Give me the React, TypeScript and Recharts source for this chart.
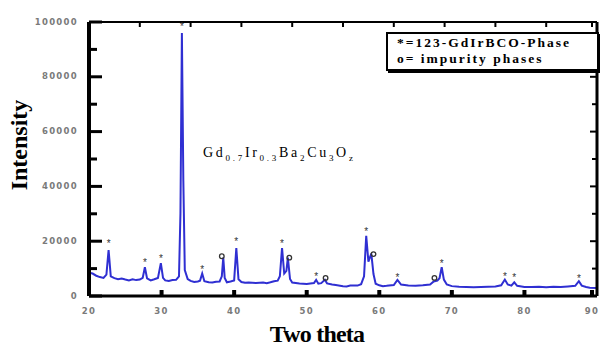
import { ComposedChart, Line, Scatter, XAxis, YAxis } from 'recharts';

const twoTheta = [
  20, 20.5, 21, 21.5, 22, 22.4, 22.7, 23, 23.5, 24, 24.5, 25, 25.5, 26, 26.5, 27, 27.4, 27.7, 28, 28.5,
  29, 29.5, 29.9, 30.2, 30.5, 31, 31.5, 32, 32.4, 32.6, 32.8, 33, 33.2, 33.6, 34, 34.5, 35, 35.3, 35.6, 35.9,
  36.5, 37, 37.5, 38, 38.3, 38.5, 38.7, 39, 39.5, 40, 40.3, 40.6, 41, 41.5, 42, 43, 44, 44.5, 45, 45.5,
  46, 46.3, 46.6, 46.9, 47.2, 47.4, 47.7, 48, 49, 50, 50.5, 51, 51.3, 51.6, 52, 52.5, 52.8, 53.5, 54, 55,
  55.5, 56, 57, 57.5, 57.9, 58.2, 58.5, 58.9, 59.2, 59.5, 60, 60.5, 61, 62, 62.5, 63, 64, 65, 66, 67,
  67.5, 68, 68.3, 68.6, 68.9, 69.3, 70, 71, 72, 73, 74, 75, 76, 76.8, 77.3, 77.7, 78.2, 78.6, 79, 80,
  81, 82, 83, 84, 85, 86, 87, 87.5, 87.9, 88.5, 89, 90,
];
const intensity = [
  8500, 8200, 7400, 6900, 6600, 7800, 16800, 7200, 6500, 6100, 6400, 6000, 5700, 6100, 5800, 6000, 6600, 10500, 6400, 5700,
  6100, 6600, 12000, 6600, 5700, 5500, 5800, 5900, 7200, 30000, 96000, 42000, 9500, 6200, 5500, 5100, 5300, 5600, 8200, 5400,
  5000, 4900, 5200, 5300, 7200, 14000, 6600, 5000, 5300, 5700, 17500, 6100, 5100, 4800, 4900, 4700, 4900, 4700, 5000, 5400,
  5600, 7200, 17500, 8200, 9200, 14000, 6200, 4900, 4600, 4400, 4600, 4700, 5900, 4500, 4700, 5900, 4600, 4200, 4000, 3600,
  3500, 3800, 3800, 4300, 7200, 22000, 12500, 15500, 8000, 4500, 3900, 3600, 3700, 4000, 5900, 4200, 3800, 3700, 3900, 4200,
  5300, 5600, 6500, 10500, 6000, 4200, 3600, 3400, 3300, 3200, 3300, 3400, 3500, 3900, 6000, 4200, 3800, 5000, 3700, 3300,
  3300, 3400, 3200, 3400, 3300, 3500, 3700, 5400, 3800, 3300, 3000, 2900,
];

// peak markers: * = 123 phase, o = impurity
const phaseTheta = [22.7, 27.7, 29.9, 32.8, 35.6, 40.3, 46.6, 51.3, 58.2, 62.5, 68.6, 77.3, 78.6, 87.5];
const phaseY = [19500, 12500, 13800, 98500, 9800, 20000, 19500, 7200, 23800, 6800, 12200, 7200, 6800, 6600];
const impurityTheta = [38.3, 47.6, 52.6, 59.2, 67.6];
const impurityY = [14500, 14000, 6600, 15300, 6600];

const xTicks = [20, 30, 40, 50, 60, 70, 80, 90];
const topTicks = [20, 27, 34, 41, 48, 55, 62, 69, 76, 83, 90];
const yTicks = [0, 10000, 20000, 30000, 40000, 50000, 60000, 70000, 80000, 90000, 100000];

const scan = twoTheta.map((t, i) => ({ t, i: intensity[i] }));
const phaseMarks = phaseTheta.map((t, k) => ({ t, i: phaseY[k] }));
const impurityMarks = impurityTheta.map((t, k) => ({ t, i: impurityY[k] }));

const tickFont = {
  fontFamily: '"DejaVu Sans", sans-serif',
  fontWeight: 700,
  fontSize: 8.5,
  letterSpacing: 1.3,
  fill: '#7a7a7a',
};

const LeftTick = ({ x, y, payload }: any) => {
  const major = payload.value % 20000 === 0;
  return (
    <g>
      <path d={`M${x},${y}H${x + (major ? 13 : 8)}`} stroke="#000" strokeWidth={3} fill="none" />
      {major && (
        <text x={x - 11} y={y} textAnchor="end" dominantBaseline="middle" style={tickFont}>
          {payload.value}
        </text>
      )}
    </g>
  );
};

const BottomTick = ({ x, y, payload }: any) => (
  <g>
    <path d={`M${x},${y}V${y - 6}`} stroke="#000" strokeWidth={4} fill="none" />
    <text x={x} y={y + 15} textAnchor="middle" dominantBaseline="middle" style={tickFont}>
      {payload.value}
    </text>
  </g>
);

const TopTick = ({ x, y }: any) => (
  <path d={`M${x},${y}V${y + 5}`} stroke="#000" strokeWidth={2} fill="none" />
);

const RightTick = ({ x, y, payload }: any) => (
  <path d={`M${x},${y}H${x - (payload.value % 20000 === 0 ? 7 : 5)}`} stroke="#000" strokeWidth={2} fill="none" />
);

const PhaseMark = ({ cx, cy }: any) => (
  <text x={cx} y={cy + 4} textAnchor="middle" fontSize={10} fontFamily="Liberation Sans" fill="#333">
    *
  </text>
);

const ImpurityMark = ({ cx, cy }: any) => (
  <circle cx={cx} cy={cy} r={2.3} fill="none" stroke="#333" strokeWidth={1.3} />
);

const sub = { fontSize: 9, verticalAlign: '-4px' } as const;

export default function App() {
  return (
    <div style={{ position: 'absolute', left: 0, top: 0, width: 600, height: 349 }}>
      <ComposedChart width={600} height={349} data={scan} margin={{ top: 21, right: 2, bottom: 0, left: 0 }}>
        <XAxis
          xAxisId="b"
          dataKey="t"
          type="number"
          domain={[20, 90]}
          allowDataOverflow
          ticks={xTicks}
          height={53}
          tickSize={0}
          tickMargin={0}
          tickLine={false}
          tick={<BottomTick />}
          axisLine={{ stroke: '#000', strokeWidth: 3 }}
        />
        <XAxis
          xAxisId="top"
          dataKey="t"
          type="number"
          orientation="top"
          domain={[20, 90]}
          allowDataOverflow
          ticks={topTicks}
          height={1}
          tickSize={0}
          tickMargin={0}
          tick={<TopTick />}
          axisLine={{ stroke: '#000', strokeWidth: 2 }}
        />
        <YAxis
          yAxisId="l"
          dataKey="i"
          type="number"
          domain={[0, 100000]}
          allowDataOverflow
          ticks={yTicks}
          width={89}
          tickSize={0}
          tickMargin={0}
          tickLine={false}
          tick={<LeftTick />}
          axisLine={{ stroke: '#000', strokeWidth: 4 }}
        />
        <YAxis
          yAxisId="r"
          orientation="right"
          type="number"
          domain={[0, 100000]}
          allowDataOverflow
          ticks={yTicks}
          width={1}
          tickSize={0}
          tickMargin={0}
          tick={<RightTick />}
          axisLine={{ stroke: '#000', strokeWidth: 3 }}
        />
        <Line
          xAxisId="b"
          yAxisId="l"
          dataKey="i"
          type="linear"
          stroke="#2f2fd2"
          strokeWidth={2}
          dot={false}
          isAnimationActive={false}
        />
        <Scatter xAxisId="b" yAxisId="l" data={phaseMarks} dataKey="i" fill="#333" shape={<PhaseMark />} isAnimationActive={false} />
        <Scatter xAxisId="b" yAxisId="l" data={impurityMarks} dataKey="i" fill="#333" shape={<ImpurityMark />} isAnimationActive={false} />
      </ComposedChart>

      <div
        style={{
          position: 'absolute',
          left: 386,
          top: 32,
          width: 200,
          height: 34,
          border: '2px solid #000',
          boxShadow: '2px 2px 0 #000',
          background: '#fff',
          fontFamily: '"Liberation Serif", serif',
          fontWeight: 700,
          fontSize: 13.5,
          letterSpacing: 2,
          lineHeight: '16px',
          padding: '1px 0 0 9px',
          boxSizing: 'content-box',
          whiteSpace: 'nowrap',
        }}
      >
        <div>*=123-GdIrBCO-Phase</div>
        <div>o= impurity phases</div>
      </div>

      <div
        style={{
          position: 'absolute',
          left: 203,
          top: 145,
          fontFamily: '"Liberation Serif", serif',
          fontSize: 14,
          letterSpacing: 2.7,
          whiteSpace: 'nowrap',
          lineHeight: '16px',
        }}
      >
        Gd<span style={sub}>0.7</span>Ir<span style={sub}>0.3</span>Ba<span style={sub}>2</span>Cu
        <span style={sub}>3</span>O<span style={sub}>z</span>
      </div>

      <div
        style={{
          position: 'absolute',
          left: 19,
          top: 145,
          transform: 'translate(-50%, -50%) rotate(-90deg)',
          fontFamily: '"Liberation Serif", serif',
          fontWeight: 700,
          fontSize: 24,
          whiteSpace: 'nowrap',
        }}
      >
        Intensity
      </div>

      <div
        style={{
          position: 'absolute',
          left: 317,
          top: 334,
          transform: 'translate(-50%, -50%)',
          fontFamily: '"Liberation Serif", serif',
          fontWeight: 700,
          fontSize: 24,
          letterSpacing: -0.8,
          whiteSpace: 'nowrap',
        }}
      >
        Two theta
      </div>
    </div>
  );
}
